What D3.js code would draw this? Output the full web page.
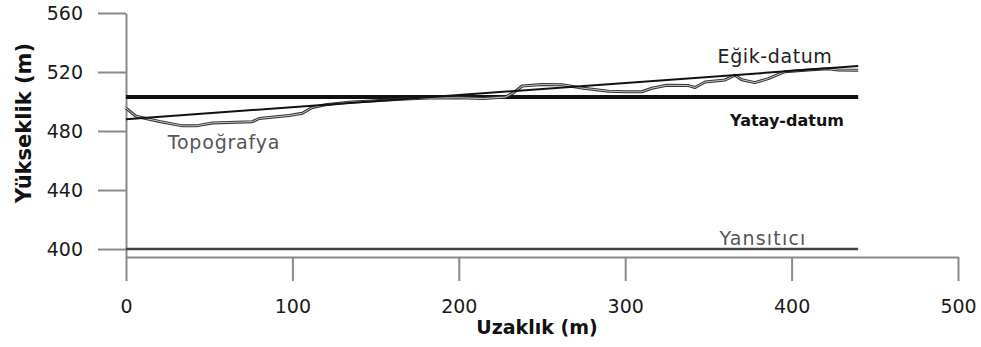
<!DOCTYPE html>
<html>
<head>
<meta charset="utf-8">
<script src="https://cdn.jsdelivr.net/npm/d3@7"></script>
<style>
    body { margin: 0; background: #fff; }
    svg text { font-family: "DejaVu Sans", sans-serif; }
</style>
</head>
<body>
<div id="chart"></div>
<script>

// topography profile (distance in m, elevation in m)
let topoDistance = [0, 6, 12, 20, 34, 42, 52, 76, 80, 98, 106, 112, 120, 134, 150, 165, 182, 200, 215, 228,
    233, 238, 250, 262, 275, 290, 300, 310, 316, 325, 338, 342, 348, 360, 366, 370, 378, 386, 396, 410,
    422, 428, 440];
let topoElevation = [495.5, 490, 488.5, 486.5, 483.5, 483.5, 485.5, 486.3, 488.5, 490.5, 492, 496, 497.8, 499.5, 500.5, 501.5, 502.3, 502.5, 502, 503,
    506, 510.5, 511.5, 511.3, 509, 507, 506.6, 506.6, 509, 511, 510.8, 509.5, 513.2, 514.6, 517.8, 514.8, 512.8, 515.5, 520.2, 521.4,
    522.2, 521.4, 521.2];

// straight lines: [start, end]
let lineDistance = [0, 440];
let egikElevation = [488, 524];      // Eğik-datum
let yatayElevation = [503, 503];     // Yatay-datum
let yansiticiElevation = [400, 400]; // Yansıtıcı

// ticks
let xTicks = [0, 100, 200, 300, 400, 500];
let xMinorTicks = [50, 150, 250, 350, 450];
let yTicks = [400, 440, 480, 520, 560];

let width = 981, height = 347;

let svg = d3.select("#chart").append("svg")
    .attr("width", width)
    .attr("height", height);

// scales
let x = d3.scaleLinear().domain([0, 500]).range([126, 958]);
let y = d3.scaleLinear().domain([394.6, 560]).range([257, 13]);

let axisColor = "#8a8a8a";

// x axis (sits a bit below the y axis end)
let xAxisGroup = svg.append("g")
    .attr("transform", "translate(0, 257)");

xAxisGroup.call(d3.axisBottom(x).tickValues(xMinorTicks).tickSize(12).tickSizeOuter(0).tickFormat(""));
xAxisGroup.call(d3.axisBottom(x).tickValues(xTicks).tickSize(24).tickSizeOuter(0).tickPadding(19));

// y axis
let yAxisGroup = svg.append("g")
    .attr("transform", "translate(126, 0)")
    .call(d3.axisLeft(y).tickValues(yTicks).tickSize(28).tickSizeOuter(0).tickPadding(15));

[xAxisGroup, yAxisGroup].forEach(g => {
    g.selectAll("path.domain").attr("stroke", axisColor).attr("stroke-width", 2);
    g.selectAll(".tick line").attr("stroke", axisColor).attr("stroke-width", 2);
    g.selectAll(".tick text")
        .attr("font-size", "19px")
        .attr("fill", "#1a1a1a")
        .style("font-family", "'DejaVu Sans', sans-serif");
});

// line generator
let line = d3.line()
    .x(d => x(d[0]))
    .y(d => y(d[1]));

let zip = (a, b) => a.map((d, i) => [d, b[i]]);

// reflector
svg.append("path")
    .datum(zip(lineDistance, yansiticiElevation))
    .attr("d", line)
    .attr("fill", "none")
    .attr("stroke", "#444")
    .attr("stroke-width", 2.5);

// horizontal datum
svg.append("path")
    .datum(zip(lineDistance, yatayElevation))
    .attr("d", line)
    .attr("fill", "none")
    .attr("stroke", "#111")
    .attr("stroke-width", 4);

// topography (outlined look)
let topo = zip(topoDistance, topoElevation);
svg.append("path")
    .datum(topo)
    .attr("d", line)
    .attr("fill", "none")
    .attr("stroke", "#333")
    .attr("stroke-width", 3)
    .attr("stroke-linejoin", "round");
svg.append("path")
    .datum(topo)
    .attr("d", line)
    .attr("fill", "none")
    .attr("stroke", "#c8c8c8")
    .attr("stroke-width", 1)
    .attr("stroke-linejoin", "round");

// sloping datum
svg.append("path")
    .datum(zip(lineDistance, egikElevation))
    .attr("d", line)
    .attr("fill", "none")
    .attr("stroke", "#111")
    .attr("stroke-width", 2);

// line labels
let labels = [
    {text: "Eğik-datum", x: 775, y: 63, weight: "normal", fill: "#222", size: 19, spacing: 0.6},
    {text: "Yatay-datum", x: 787, y: 126, weight: "bold", fill: "#111", size: 16, spacing: 0},
    {text: "Topoğrafya", x: 224, y: 149, weight: "normal", fill: "#555", size: 19, spacing: 0.8},
    {text: "Yansıtıcı", x: 763, y: 245, weight: "normal", fill: "#555", size: 19, spacing: 1.2}
];

svg.selectAll("text.line-label")
    .data(labels)
    .enter()
    .append("text")
    .attr("class", "line-label")
    .attr("x", d => d.x)
    .attr("y", d => d.y)
    .attr("text-anchor", "middle")
    .attr("font-size", d => d.size + "px")
    .attr("font-weight", d => d.weight)
    .attr("letter-spacing", d => d.spacing + "px")
    .attr("fill", d => d.fill)
    .text(d => d.text);

// axis titles
svg.append("text")
    .attr("x", 537)
    .attr("y", 334)
    .attr("text-anchor", "middle")
    .attr("font-size", "19px")
    .attr("font-weight", "bold")
    .attr("fill", "#111")
    .text("Uzaklık (m)");

svg.append("text")
    .attr("transform", "translate(31, 123) rotate(-90)")
    .attr("text-anchor", "middle")
    .attr("font-size", "21px")
    .attr("font-weight", "bold")
    .attr("fill", "#111")
    .text("Yükseklik (m)");

</script>
</body>
</html>
